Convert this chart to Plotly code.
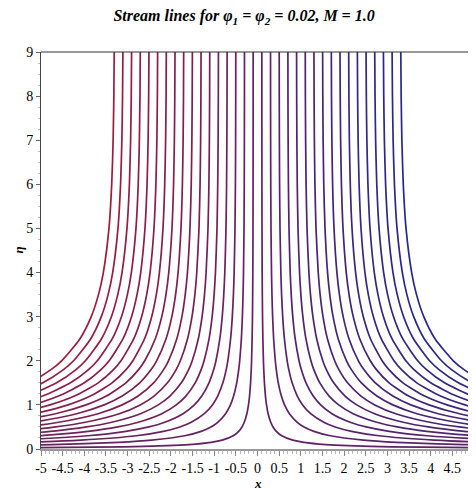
import plotly.graph_objects as go

# Similarity profile g(eta) (normalised stream function)
eta = [0.01, 0.02, 0.035, 0.05, 0.075, 0.1, 0.15, 0.2, 0.3, 0.4, 0.5, 0.6, 0.8, 1.0, 1.2,
       1.5, 1.8, 2.0, 2.5, 3.0, 3.5, 4.0, 5.0, 6.0, 7.0, 8.0, 9.0]
g = [0.0065, 0.0130, 0.0226, 0.0322, 0.0478, 0.0633, 0.0934, 0.1226, 0.1784, 0.2302,
     0.2790, 0.3244, 0.4072, 0.4800, 0.5440, 0.6251, 0.6918, 0.7296, 0.8051, 0.8594,
     0.8986, 0.9269, 0.9620, 0.9802, 0.9897, 0.9947, 0.9972]

# stream function levels (psi = x * g(eta))
levels = [round(-3.3 + 0.2 * k, 1) for k in range(34)]

x_ticks = [-5, -4.5, -4, -3.5, -3, -2.5, -2, -1.5, -1, -0.5, 0, 0.5, 1, 1.5, 2, 2.5, 3, 3.5, 4, 4.5, 5]
x_ticktext = ["-5", "-4.5", "-4", "-3.5", "-3", "-2.5", "-2", "-1.5", "-1", "-0.5", "0",
              "0.5", "1", "1.5", "2", "2.5", "3", "3.5", "4", "4.5", "5"]
y_ticks = [0, 1, 2, 3, 4, 5, 6, 7, 8, 9]

red = (155, 28, 60)
blue = (40, 40, 140)

def mix(t):
    r = round(red[0] + (blue[0] - red[0]) * t)
    gg = round(red[1] + (blue[1] - red[1]) * t)
    b = round(red[2] + (blue[2] - red[2]) * t)
    return f"rgb({r},{gg},{b})"

fig = go.Figure()
lo, hi = levels[0], levels[-1]
for c in levels:
    xs = [c / gv for gv in g]
    t = (c - lo) / (hi - lo)
    fig.add_trace(go.Scatter(x=xs, y=eta, mode="lines", line=dict(color=mix(t), width=1.7,
                             shape="spline", smoothing=0.6),
                             showlegend=False, hoverinfo="skip", cliponaxis=True))

serif = "Liberation Serif, Times New Roman, serif"
fig.update_layout(
    width=476, height=488,
    margin=dict(l=33, r=10, t=44, b=47, autoexpand=False),
    paper_bgcolor="white", plot_bgcolor="white",
    title=dict(text="<b><i>Stream lines for φ<sub>1</sub> = φ<sub>2</sub> = 0.02, M = 1.0</i></b>",
               x=0.496, xanchor="center", y=0.996, yanchor="top",
               font=dict(family=serif, size=16, color="black")),
    font=dict(family=serif, size=14, color="black"),
    showlegend=False,
    annotations=[
        dict(text="<b><i>x</i></b>", xref="paper", yref="paper", x=0.5, y=0, yshift=-34,
             xanchor="center", yanchor="middle", showarrow=False,
             font=dict(family=serif, size=13, color="black")),
        dict(text="<b><i>η</i></b>", xref="paper", yref="paper", x=0, xshift=-23, y=0.5,
             xanchor="center", yanchor="middle", textangle=-90, showarrow=False,
             font=dict(family=serif, size=13, color="black")),
    ],
)
fig.update_xaxes(range=[-5, 5], tickvals=x_ticks, ticktext=x_ticktext, automargin=False,
                 ticks="outside", ticklen=5, tickcolor="#888", showgrid=False, zeroline=False,
                 showline=True, linecolor="#999", linewidth=2,
                 minor=dict(ticks="outside", ticklen=3, dtick=0.1, tickcolor="#bbb"),
                 tickfont=dict(family=serif, size=14))
fig.update_yaxes(range=[0, 9], tickvals=y_ticks, ticks="outside", ticklen=4, tickcolor="#666",
                 automargin=False,
                 showgrid=False, zeroline=False, showline=True, linecolor="#444", linewidth=1,
                 minor=dict(ticks="outside", ticklen=2, dtick=0.25, tickcolor="#bbb"),
                 tickfont=dict(family=serif, size=14))
# top border
fig.add_shape(type="line", xref="paper", yref="paper", x0=0, x1=1, y0=1, y1=1,
              line=dict(color="#333", width=1))

fig.write_html("out.html")
